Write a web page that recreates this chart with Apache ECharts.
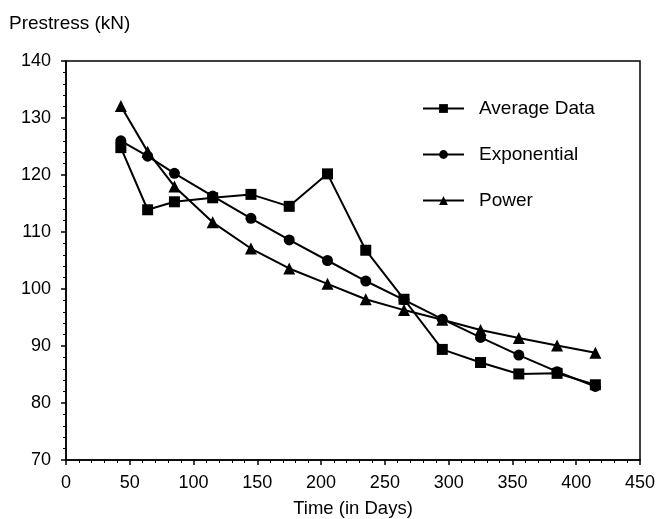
<!DOCTYPE html>
<html>
<head>
<meta charset="utf-8">
<script src="https://cdn.jsdelivr.net/npm/echarts@6/dist/echarts.min.js"></script>
<style>html,body{margin:0;padding:0;background:#fff}#c{width:658px;height:519px}</style>
</head>
<body>
<div id="c"></div>
<script>
const days = [43, 64, 85, 115, 145, 175, 205, 235, 265, 295, 325, 355, 385, 415];
const averageData = [124.8, 113.9, 115.3, 116.0, 116.6, 114.5, 120.2, 106.8, 98.2, 89.4, 87.1, 85.1, 85.2, 83.2];
const exponential = [126.0, 123.3, 120.3, 116.3, 112.4, 108.6, 105.0, 101.4, 98.1, 94.7, 91.5, 88.4, 85.5, 82.9];
const power = [132.1, 124.1, 118.0, 111.7, 107.1, 103.6, 100.9, 98.2, 96.3, 94.6, 92.8, 91.4, 90.1, 88.8];
const seriesNames = ['Average Data', 'Exponential', 'Power'];

const font = 'Liberation Sans, Arial, sans-serif';
const pair = (xs, ys) => xs.map((x, i) => [x, ys[i]]);
const mk = (name, values, symbol, size) => ({
  name, type: 'line', data: pair(days, values), symbol, symbolSize: size,
  lineStyle: { color: '#000', width: 2 }, itemStyle: { color: '#000' },
  emphasis: { disabled: true }
});

const chart = echarts.init(document.getElementById('c'), null, { renderer: 'canvas' });
chart.setOption({
  animation: false,
  backgroundColor: '#fff',
  title: { text: 'Prestress (kN)', left: 9, top: 14, padding: 0, textStyle: { fontFamily: font, fontSize: 19, fontWeight: 'normal', color: '#000' } },
  grid: { left: 66, right: 18, top: 61, bottom: 59, show: true, borderColor: '#000', borderWidth: 1.5, containLabel: false, outerBoundsMode: 'none' },
  legend: {
    orient: 'vertical', left: 422, top: 99, itemWidth: 41, itemHeight: 11, itemGap: 27, padding: 0,
    data: seriesNames,
    textStyle: { fontFamily: font, fontSize: 19, color: '#000', padding: [0, 0, 0, 10] }
  },
  xAxis: {
    type: 'value', min: 0, max: 450, interval: 50,
    name: 'Time (in Days)', nameLocation: 'middle', nameGap: 39,
    nameTextStyle: { fontFamily: font, fontSize: 18.5, color: '#000' },
    axisLine: { lineStyle: { color: '#000', width: 1.5 } },
    axisTick: { length: 5, lineStyle: { color: '#000', width: 1.5 } },
    minorTick: { show: true, splitNumber: 5, length: 3, lineStyle: { color: '#000' } },
    axisLabel: { fontFamily: font, fontSize: 18, color: '#000', margin: 14 },
    splitLine: { show: false }
  },
  yAxis: {
    type: 'value', min: 70, max: 140, interval: 10,
    axisLine: { show: true, lineStyle: { color: '#000', width: 1.5 } },
    axisTick: { show: true, length: 5, lineStyle: { color: '#000', width: 1.5 } },
    minorTick: { show: true, splitNumber: 5, length: 3, lineStyle: { color: '#000' } },
    axisLabel: { fontFamily: font, fontSize: 18, color: '#000', margin: 15 },
    splitLine: { show: false }
  },
  series: [
    mk(seriesNames[0], averageData, 'rect', 11),
    mk(seriesNames[1], exponential, 'circle', 11),
    mk(seriesNames[2], power, 'triangle', 12)
  ]
});
</script>
</body>
</html>
